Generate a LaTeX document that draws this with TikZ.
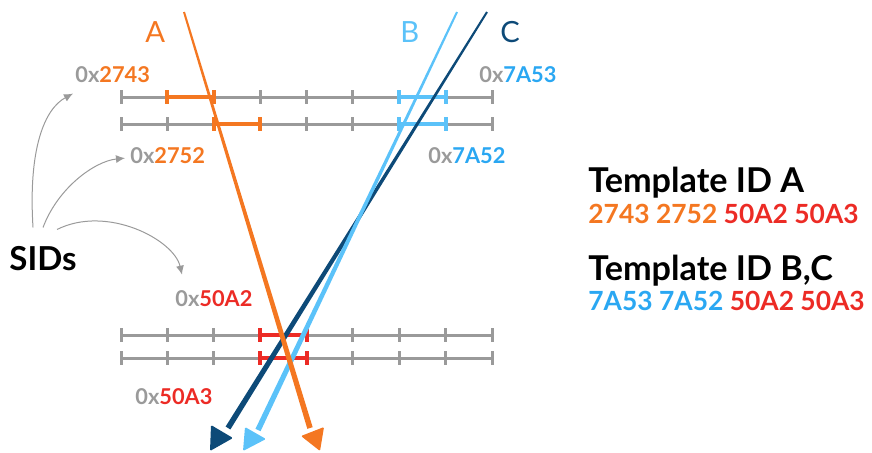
\documentclass[tikz,border=0pt]{standalone}
\usepackage{fontspec}
\setmainfont{Lato}
\usetikzlibrary{calc,arrows.meta,positioning}
\definecolor{orangeA}{HTML}{F47721}
\definecolor{lightB}{HTML}{5BC2F9}
\definecolor{darkC}{HTML}{0D4A78}
\definecolor{redID}{HTML}{EC2B25}
\definecolor{blueID}{HTML}{2AA7F2}
\definecolor{grayR}{HTML}{9A9A9A}

\begin{document}
\begin{tikzpicture}[x=0.5pt, y=-0.5pt,
    ruler/.style={draw=grayR, line width=1.5pt},
    hit/.style={line width=2pt},
    sidlbl/.style={font=\bfseries\fontsize{10.9}{12}\selectfont, text=grayR, inner sep=0pt, anchor=base west},
    pathname/.style={font=\fontsize{14.6}{16}\selectfont, inner sep=0pt, anchor=base west},
    sidsfont/.style={font=\bfseries\fontsize{16.5}{18}\selectfont, inner sep=0pt, anchor=base west},
    tmpl/.style={font=\bfseries\fontsize{17.1}{18}\selectfont, inner sep=0pt, anchor=base west},
    idlist/.style={font=\bfseries\fontsize{13.2}{14}\selectfont, inner sep=0pt, anchor=base west},
    sidarrow/.style={draw=grayR, line width=0.5pt, -{Latex[length=4.5pt,width=4pt]}}]
    \useasboundingbox (0,0) rectangle (872,452);

    % Rulers
    \foreach \y in {97,124,335,358} {
        \draw[ruler] (121,\y) -- (492,\y);
        \foreach \i in {0,...,8}
            \draw[ruler] (121+46.375*\i,\y-7) -- ++(0,14);
    }
    % Hit segments
    \foreach \y/\i/\c in {97/1/orangeA, 124/2/orangeA, 97/6/lightB, 124/6/lightB, 335/3/redID, 358/3/redID}
        \draw[hit, draw=\c] (121+46.375*\i,\y-7) -- ++(0,14)
            (121+46.375*\i,\y) -- ++(46.375,0)
            (121+46.375*\i+46.375,\y-7) -- ++(0,14);

    % Path names
    \node[pathname, text=orangeA] at (145,42) (nameA) {A};
    \node[pathname, text=lightB] at (400,42) (nameB) {B};
    \node[pathname, text=darkC] at (500,42) (nameC) {C};

    % Paths
    \coordinate (topA) at (184,12);  \coordinate (endA) at (310,428);
    \coordinate (topB) at (457,12);  \coordinate (endB) at (258,430);
    \coordinate (topC) at (487,12);  \coordinate (endC) at (228,428);
    \foreach \p/\c in {C/darkC, B/lightB, A/orangeA}
        \fill[\c] ($(top\p)!0.5pt!90:(end\p)$) -- ($(end\p)!1.4pt!-90:(top\p)$)
            -- ($(end\p)!1.4pt!90:(top\p)$) -- ($(top\p)!0.5pt!-90:(end\p)$) -- cycle;
    \fill[darkC, rounded corners=0.6pt] (211,425) -- (233,438) -- (210,451) -- cycle;
    \fill[lightB, rounded corners=0.6pt] (245,427) -- (266,439) -- (243,451) -- cycle;
    \fill[orangeA, rounded corners=0.6pt] (301,436) -- (324,427) -- (320,451) -- cycle;

    % SID labels
    \node[sidlbl] at (75,82) (lbl2743) {0x\textcolor{orangeA}{2743}};
    \node[sidlbl] at (130,163) (lbl2752) {0x\textcolor{orangeA}{2752}};
    \node[sidlbl] at (479,82) (lbl7A53) {0x\textcolor{blueID}{7A53}};
    \node[sidlbl] at (428,163) (lbl7A52) {0x\textcolor{blueID}{7A52}};
    \node[sidlbl] at (175,306) (lbl50A2) {0x\textcolor{redID}{50A2}};
    \node[sidlbl] at (135,404) (lbl50A3) {0x\textcolor{redID}{50A3}};

    \node[sidsfont] at (9,270) (sids) {SIDs};
    \draw[sidarrow] ([shift={(-10,-18)}]sids.north) .. controls +(-5,-80) and +(-28,15) .. ([shift={(-2,11)}]lbl2743.south west);
    \draw[sidarrow] ([shift={(0,-18)}]sids.north) .. controls +(15,-40) and +(-30,3) .. ([shift={(-5,3)}]lbl2752.west);
    \draw[sidarrow] ([shift={(14,-16)}]sids.north) .. controls +(50,-25) and +(-8,-35) .. ([shift={(7,-15)}]lbl50A2.north west);

    % Templates
    \node[tmpl] at (588,192) (tmplA) {Template ID A};
    \node[idlist] at (588,223) (idsA) {\textcolor{orangeA}{2743 2752} \textcolor{redID}{50A2 50A3}};
    \node[tmpl] at (588,280) (tmplBC) {Template ID B,C};
    \node[idlist] at (588,310) (idsBC) {\textcolor{blueID}{7A53 7A52} \textcolor{redID}{50A2 50A3}};
\end{tikzpicture}
\end{document}
